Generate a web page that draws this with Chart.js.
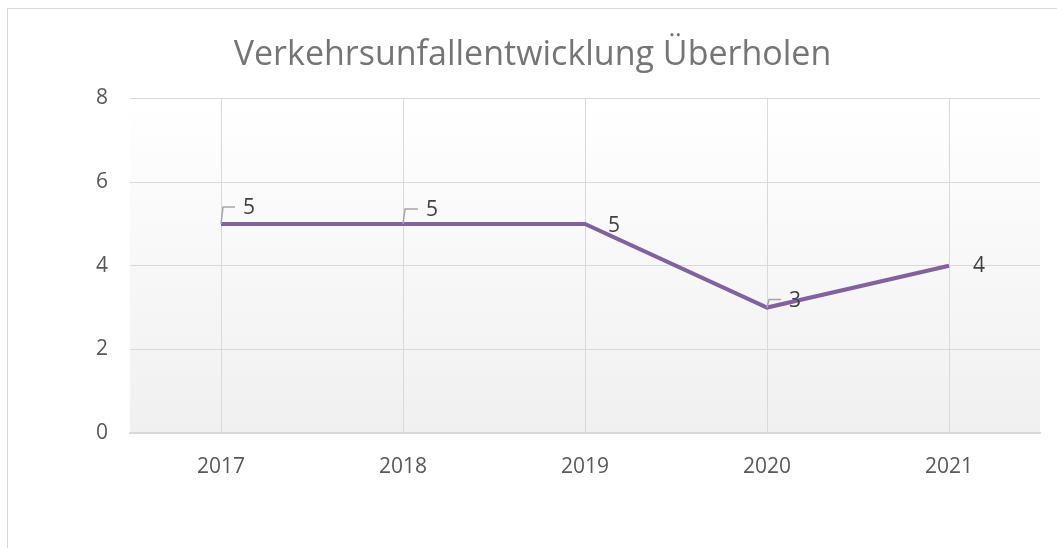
<!DOCTYPE html>
<html>
<head>
<meta charset="utf-8">
<script src="https://cdn.jsdelivr.net/npm/chart.js@4/dist/chart.umd.min.js"></script>
<style>
  html, body { margin: 0; padding: 0; background: #fff; width: 1057px; height: 548px; overflow: hidden; }
  #wrap { position: absolute; left: 7px; top: 8px; width: 1050px; height: 540px;
          border-left: 1px solid #d9d9d9; border-top: 1px solid #d9d9d9; }
  canvas { display: block; }
</style>
</head>
<body>
<div id="wrap"><canvas id="c" width="1049" height="539"></canvas></div>
<script>
const title = "Verkehrsunfallentwicklung Überholen";
const years = ["2017", "2018", "2019", "2020", "2021"];
const accidents = [5, 5, 5, 3, 4];
const yTicks = [0, 2, 4, 6, 8];

const FONT = "'Open Sans', 'DejaVu Sans', sans-serif";

const bgPlugin = {
  id: 'plotBg',
  beforeDraw(chart) {
    const { ctx, chartArea: a } = chart;
    const g = ctx.createLinearGradient(0, a.top, 0, a.bottom);
    g.addColorStop(0, '#ffffff');
    g.addColorStop(1, '#f0f0f0');
    ctx.save();
    ctx.fillStyle = g;
    ctx.fillRect(a.left, a.top, a.right - a.left, a.bottom - a.top);
    ctx.restore();
  }
};

// label offsets relative to each point (style only)
const labelOffsets = [[28, -16], [29, -14], [29, 2], [28, -7], [30, 0]];

const labelPlugin = {
  id: 'dataLabels',
  afterDatasetsDraw(chart) {
    const { ctx } = chart;
    const meta = chart.getDatasetMeta(0);
    ctx.save();
    ctx.font = "21px " + FONT;
    ctx.textAlign = 'center';
    ctx.textBaseline = 'middle';
    meta.data.forEach((pt, i) => {
      const [dx, dy] = labelOffsets[i];
      const tx = pt.x + dx, ty = pt.y + dy;
      if (dy < -5) {
        ctx.strokeStyle = '#a6a6a6';
        ctx.lineWidth = 1.5;
        ctx.beginPath();
        ctx.moveTo(pt.x, pt.y);
        ctx.lineTo(pt.x + 2, ty - 1);
        ctx.lineTo(tx - 14, ty - 1);
        ctx.stroke();
      }
      ctx.fillStyle = '#404040';
      ctx.fillText(String(accidents[i]), tx, ty);
    });
    ctx.restore();
  }
};

new Chart(document.getElementById('c'), {
  type: 'line',
  data: {
    labels: years,
    datasets: [{
      data: accidents,
      borderColor: '#7f63a1',
      borderWidth: 4,
      pointRadius: 0,
      tension: 0,
      fill: false
    }]
  },
  options: {
    responsive: false,
    animation: false,
    layout: { padding: 0 },
    plugins: {
      legend: { display: false },
      tooltip: { enabled: false },
      title: {
        display: true,
        text: title,
        color: '#757575',
        font: { family: FONT, size: 34, weight: 'normal' },
        padding: { top: 26, bottom: 22.6 }
      }
    },
    scales: {
      x: {
        type: 'category',
        offset: true,
        grid: { offset: false, color: '#d9d9d9', lineWidth: 1, drawTicks: false },
        border: { display: true, color: '#d9d9d9', width: 2 },
        ticks: { color: '#595959', font: { family: FONT, size: 21 }, padding: 21, maxRotation: 0 },
        afterFit(scale) { scale.height = 115; }
      },
      y: {
        min: 0, max: 8,
        afterBuildTicks(scale) { scale.ticks = yTicks.map(v => ({ value: v })); },
        grid: { color: '#d9d9d9', lineWidth: 1, drawTicks: false },
        border: { display: false },
        ticks: { color: '#595959', font: { family: FONT, size: 21 }, padding: 22 },
        afterFit(scale) { scale.width = 122; }
      },
      spacer: {
        type: 'linear',
        position: 'right',
        min: 0, max: 8,
        grid: { display: false, drawTicks: false },
        border: { display: false },
        ticks: { display: false },
        afterFit(scale) { scale.width = 17; }
      }
    }
  },
  plugins: [bgPlugin, labelPlugin]
});
</script>
</body>
</html>
